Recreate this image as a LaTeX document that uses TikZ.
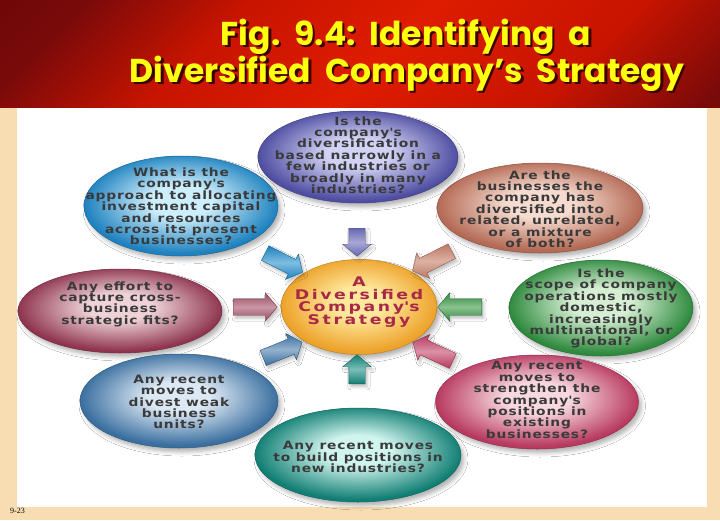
\documentclass[tikz,border=0pt]{standalone}
\usepackage{fontspec}
\usepackage{graphicx}
\usetikzlibrary{shapes.geometric,shapes.arrows,shadows.blur}
\newfontfamily\titlefont{Poppins}
\newfontfamily\bubfont[LetterSpace=6]{DejaVu Sans}
\newfontfamily\ctrfont[LetterSpace=15]{DejaVu Sans}
\newfontfamily\pagefont{Liberation Serif}

\definecolor{beige}{HTML}{F9DDB2}
\definecolor{titleyellow}{HTML}{FFFF10}
\definecolor{titleshadow}{HTML}{3A0000}
\definecolor{txtgrey}{HTML}{3A3A3A}
\definecolor{ctrred}{HTML}{A82848}
% bubble colours
\definecolor{pin}{HTML}{D2D2F4}\definecolor{pout}{HTML}{4F4EA2}
\definecolor{bin}{HTML}{CDEEFC}\definecolor{bout}{HTML}{1F82BF}
\definecolor{sin}{HTML}{F6DCD0}\definecolor{sout}{HTML}{B46A55}
\definecolor{min}{HTML}{EED2D8}\definecolor{mout}{HTML}{8F3550}
\definecolor{gin}{HTML}{D6EFD4}\definecolor{gout}{HTML}{2F8A3E}
\definecolor{stin}{HTML}{DCE8F4}\definecolor{stout}{HTML}{3A6F9F}
\definecolor{tin}{HTML}{D0F4EE}\definecolor{tout}{HTML}{127F74}
\definecolor{kin}{HTML}{F8D8E0}\definecolor{kout}{HTML}{B83A60}
\definecolor{oin}{HTML}{FFE89C}\definecolor{oout}{HTML}{EDA22A}
% title band colours
\definecolor{tbdark}{HTML}{5C0404}
\definecolor{tbdark2}{HTML}{7A0A0A}
\definecolor{tbmid}{HTML}{C81400}
\definecolor{tbbright}{HTML}{DE1C00}
\colorlet{bubin}{white}\colorlet{bubout}{gray}

\pgfdeclareradialshading[bubin,bubout]{bubshade}{\pgfpoint{0bp}{3bp}}{%
  color(0bp)=(bubin); color(8bp)=(bubin); color(25bp)=(bubout); color(50bp)=(bubout)}
\pgfdeclareverticalshading{titleshade}{100bp}{%
  color(0bp)=(tbdark); color(16bp)=(tbdark2); color(30bp)=(tbmid); color(48bp)=(tbbright);
  color(64bp)=(tbmid); color(78bp)=(tbdark2); color(100bp)=(tbdark)}

\tikzset{
  bub/.style n args={2}{ellipse, inner sep=0pt,
    /utils/exec={\colorlet{bubin}{#1}\colorlet{bubout}{#2}},
    shading=bubshade, draw=#2!80!black, line width=0.5pt,
    blur shadow={shadow xshift=3pt, shadow yshift=-4pt, shadow opacity=30, shadow blur radius=4pt}},
  btxt/.style={align=center, xscale=1.2, inner sep=0pt, text=txtgrey,
    font=\bubfont\bfseries\fontsize{11.5}{11.4}\selectfont},
  ctxt/.style={align=center, xscale=1.3, inner sep=0pt, text=ctrred,
    font=\ctrfont\bfseries\fontsize{13.3}{12.8}\selectfont},
  arr/.style n args={2}{single arrow, single arrow head extend=6pt,
    single arrow tip angle=100, inner xsep=0pt, inner ysep=8pt,
    shading=axis, top color=#2, bottom color=#2, middle color=#1!55!#2,
    draw=#2!75!black, line width=0.4pt, anchor=tail,
    blur shadow={shadow xshift=2pt, shadow yshift=-3pt, shadow opacity=25, shadow blur radius=3pt}},
  titletxt/.style={anchor=base, inner sep=0pt,
    font=\titlefont\bfseries\fontsize{33}{36}\selectfont},
}

\begin{document}
\begin{tikzpicture}[x=1pt,y=-1pt]
\useasboundingbox (0,0) rectangle (720,520);
\fill[beige] (0,0) rectangle (720,520);
\shade[shading=titleshade, shading angle=45] (0,0) rectangle (720,107);
\fill[white] (17,108) rectangle (707,507);

% title
\node[titletxt, text=titleshadow] (ts1) at (408.5,47.5) {Fig.\ \ 9.4:\ \ Identifying\ \ a};
\node[titletxt, text=titleshadow] (ts2) at (409.5,84.5) {Diversified\ \ Company’s\ \ Strategy};
\node[titletxt, text=titleyellow] (tl1) at (406,45) {Fig.\ \ 9.4:\ \ Identifying\ \ a};
\node[titletxt, text=titleyellow] (tl2) at (407,82) {Diversified\ \ Company’s\ \ Strategy};

% bubbles
\node[bub={sin}{sout}, minimum width=206pt, minimum height=90pt] (q3) at (540,208) {};
\node[bub={bin}{bout}, minimum width=194pt, minimum height=100pt] (q2) at (181,206) {};
\node[bub={pin}{pout}, minimum width=200pt, minimum height=92pt] (q1) at (358,157) {};
\node[bub={min}{mout}, minimum width=204pt, minimum height=84pt] (q4) at (120,311) {};
\node[bub={gin}{gout}, minimum width=184pt, minimum height=96pt] (q5) at (601,308) {};
\node[bub={stin}{stout}, minimum width=198pt, minimum height=94pt] (q6) at (179,401) {};
\node[bub={kin}{kout}, minimum width=203pt, minimum height=94pt] (q8) at (537,402) {};
\node[bub={tin}{tout}, minimum width=206pt, minimum height=94pt] (q7) at (358,455) {};
\node[bub={oin}{oout}, minimum width=156pt, minimum height=95pt] (c) at (359,307) {};

% bubble texts
\node[btxt] (t1) at (358,155) {Is the\\company\textquotesingle s\\diversification\\based narrowly in a\\few industries or\\broadly in many\\industries?};
\node[btxt] (t2) at (181,206.5) {What is the\\company\textquotesingle s\\approach to allocating\\investment capital\\and resources\\across its present\\businesses?};
\node[btxt] (t3) at (540,209) {Are the\\businesses the\\company has\\diversified into\\related, unrelated,\\or a mixture\\of both?};
\node[btxt] (t4) at (120,304) {Any effort to\\capture cross-\\business\\strategic fits?};
\node[btxt] (t5) at (601,308.5) {Is the\\scope of company\\operations mostly\\domestic,\\increasingly\\multinational, or\\global?};
\node[btxt] (t6) at (179,402) {Any recent\\moves to\\divest weak\\business\\units?};
\node[btxt] (t7) at (358,457) {Any recent moves\\to build positions in\\new industries?};
\node[btxt] (t8) at (537,400) {Any recent\\moves to\\strengthen the\\company\textquotesingle s\\positions in\\existing\\businesses?};
\node[ctxt] (ct) at (359,302) {A\\Diversified\\Company\textquotesingle s\\Strategy};

% arrows
\node[arr={pin}{pout!85!white}, minimum height=28pt, rotate=-90] (a1) at (357,228) {};
\node[arr={bin}{bout}, minimum height=42pt, rotate=-27] (a2) at (265,253) {};
\node[arr={sin}{sout!90!white}, minimum height=44pt, rotate=-153] (a3) at (452,251) {};
\node[arr={min}{mout!90!white}, minimum height=44pt, rotate=0] (a4) at (233,307) {};
\node[arr={gin}{gout}, minimum height=44pt, rotate=180] (a5) at (482,307) {};
\node[arr={stin}{stout}, minimum height=42pt, rotate=22] (a6) at (263,358) {};
\node[arr={tin}{tout}, minimum height=29pt, rotate=90] (a7) at (357,384) {};
\node[arr={kin}{kout}, minimum height=44pt, rotate=155] (a8) at (453,361) {};

% page number
\node[anchor=base west, inner sep=0pt, font=\pagefont\fontsize{8}{9}\selectfont] (pg) at (10,513) {9-23};
\end{tikzpicture}
\end{document}
